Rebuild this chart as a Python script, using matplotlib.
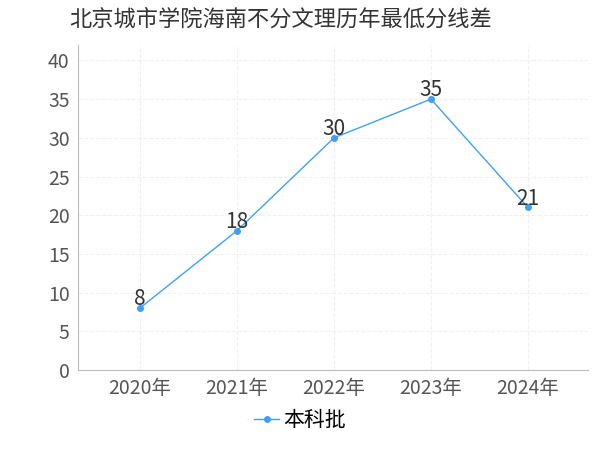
import matplotlib.pyplot as plt

plt.rcParams['font.family'] = 'Noto Sans CJK SC'

years = ['2020年', '2021年', '2022年', '2023年', '2024年']
scores = [8, 18, 30, 35, 21]
series_name = '本科批'

fig = plt.figure(figsize=(6, 4.5), dpi=100)
ax = fig.add_axes([0.13, 0.178, 0.85, 0.722])
x = range(len(years))
ax.plot(x, scores, color='#3fa0f7', lw=1, marker='o', ms=4, label=series_name)
for xi, v in zip(x, scores):
    ax.text(xi, v - 0.3, str(v), ha='center', va='bottom', fontsize=15, color='#333333')

ax.set_xlim(-0.64, 4.62)
ax.set_ylim(0, 42)
ax.set_yticks(range(0, 41, 5))
ax.set_xticks(list(x))
ax.set_xticklabels(years)
ax.tick_params(labelsize=14, colors='#555555', length=0, pad=6)
ax.grid(True, color='#f0f0f0', lw=0.8, ls='--')
for s in ['top', 'right']:
    ax.spines[s].set_visible(False)
for s in ['left', 'bottom']:
    ax.spines[s].set_color('#bbbbbb')

fig.text(0.115, 0.958, '北京城市学院海南不分文理历年最低分线差', fontsize=16, color='#333333', va='center')
fig.legend(loc='lower center', bbox_to_anchor=(0.5, 0.0), frameon=False, fontsize=15,
           handlelength=1.2, handletextpad=0.2)
fig.savefig('out.png')
